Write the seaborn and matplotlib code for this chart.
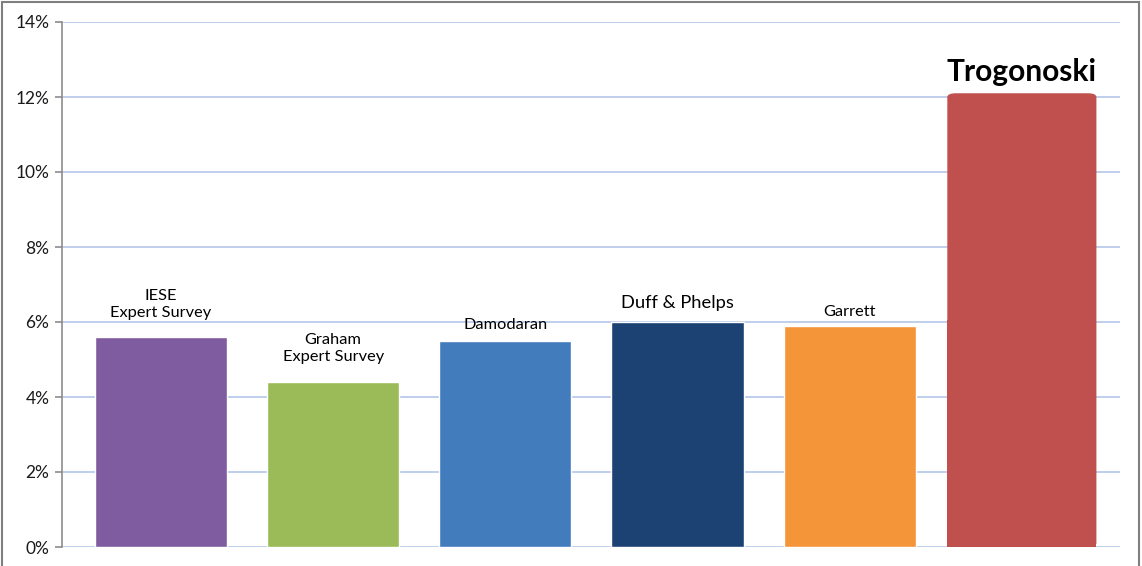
import matplotlib
matplotlib.use("Agg")
import matplotlib.pyplot as plt
import seaborn as sns
import pandas as pd
from matplotlib.patches import FancyBboxPatch, Rectangle
from matplotlib.ticker import PercentFormatter

# ---- data ----
categories = ["IESE\nExpert Survey", "Graham\nExpert Survey", "Damodaran",
              "Duff & Phelps", "Garrett", "Trogonoski"]
values = [5.6, 4.4, 5.5, 6.0, 5.9, 12.1]
yticks = [0, 2, 4, 6, 8, 10, 12, 14]

# ---- styles ----
colors = ["#7E5C9F", "#9BBB59", "#427CBC", "#1B4273", "#F5953A", "#C0504D"]
label_sizes = [11.8, 11.8, 11.8, 13.2, 11.8, 21.5]
label_weights = ["normal"] * 5 + ["bold"]
label_offsets = [12, 13, 6, 8, 5, 5]  # points above bar top

sns.set_theme(style="white")
plt.rcParams["font.family"] = ["Lato", "DejaVu Sans"]

fig = plt.figure(figsize=(11.42, 5.66), dpi=100)
ax = fig.add_axes([62 / 1142, 19 / 566, (1120 - 62) / 1142, (547 - 22) / 566])

df = pd.DataFrame({"cat": categories, "val": values})
sns.barplot(data=df, x="cat", y="val", hue="cat", palette=colors,
            width=0.767, legend=False, ax=ax, saturation=1, zorder=3)

# widen & round last bar
last = ax.patches[-1]
cx = last.get_x() + last.get_width() / 2
neww = 0.866
last.set_visible(False)
rounded = FancyBboxPatch((cx - neww / 2, 0), neww, last.get_height(),
                         boxstyle="round,pad=0,rounding_size=0.05",
                         mutation_aspect=2.1,
                         facecolor=colors[-1], edgecolor="none", zorder=3)
ax.add_patch(rounded)
ax.add_patch(Rectangle((cx - neww / 2, 0), neww, last.get_height() / 2,
                       facecolor=colors[-1], edgecolor="none", zorder=3))

for i, (lab, v) in enumerate(zip(categories, values)):
    ax.annotate(lab, xy=(i, v), xytext=(0, label_offsets[i]),
                textcoords="offset points", ha="center", va="bottom",
                fontsize=label_sizes[i], fontweight=label_weights[i],
                color="black", linespacing=1.3, zorder=4)

ax.set_ylim(0, 14)
ax.set_yticks(yticks)
ax.yaxis.set_major_formatter(PercentFormatter(decimals=0))
ax.set_xlim(-0.575, 5.57)
ax.set_xticks([])
ax.set_xlabel("")
ax.set_ylabel("")
ax.grid(axis="y", color="#B4C6E7", linewidth=1.2, zorder=0)
ax.set_axisbelow(True)
for s in ["top", "right", "bottom"]:
    ax.spines[s].set_visible(False)
ax.spines["left"].set_color("#8C8C8C")
ax.spines["left"].set_linewidth(1.2)
ax.tick_params(axis="y", left=True, length=5, width=1.2, color="#8C8C8C",
               labelsize=12.5, labelcolor="#1A1A1A", pad=4)

# figure frame
fig.patches.append(Rectangle((2 / 1142, -0.01), 1137 / 1142, 1.0 - 2 / 566 + 0.01,
                             transform=fig.transFigure, fill=False,
                             edgecolor="#7F7F7F", linewidth=1.5))

fig.savefig("out.png", dpi=100)
